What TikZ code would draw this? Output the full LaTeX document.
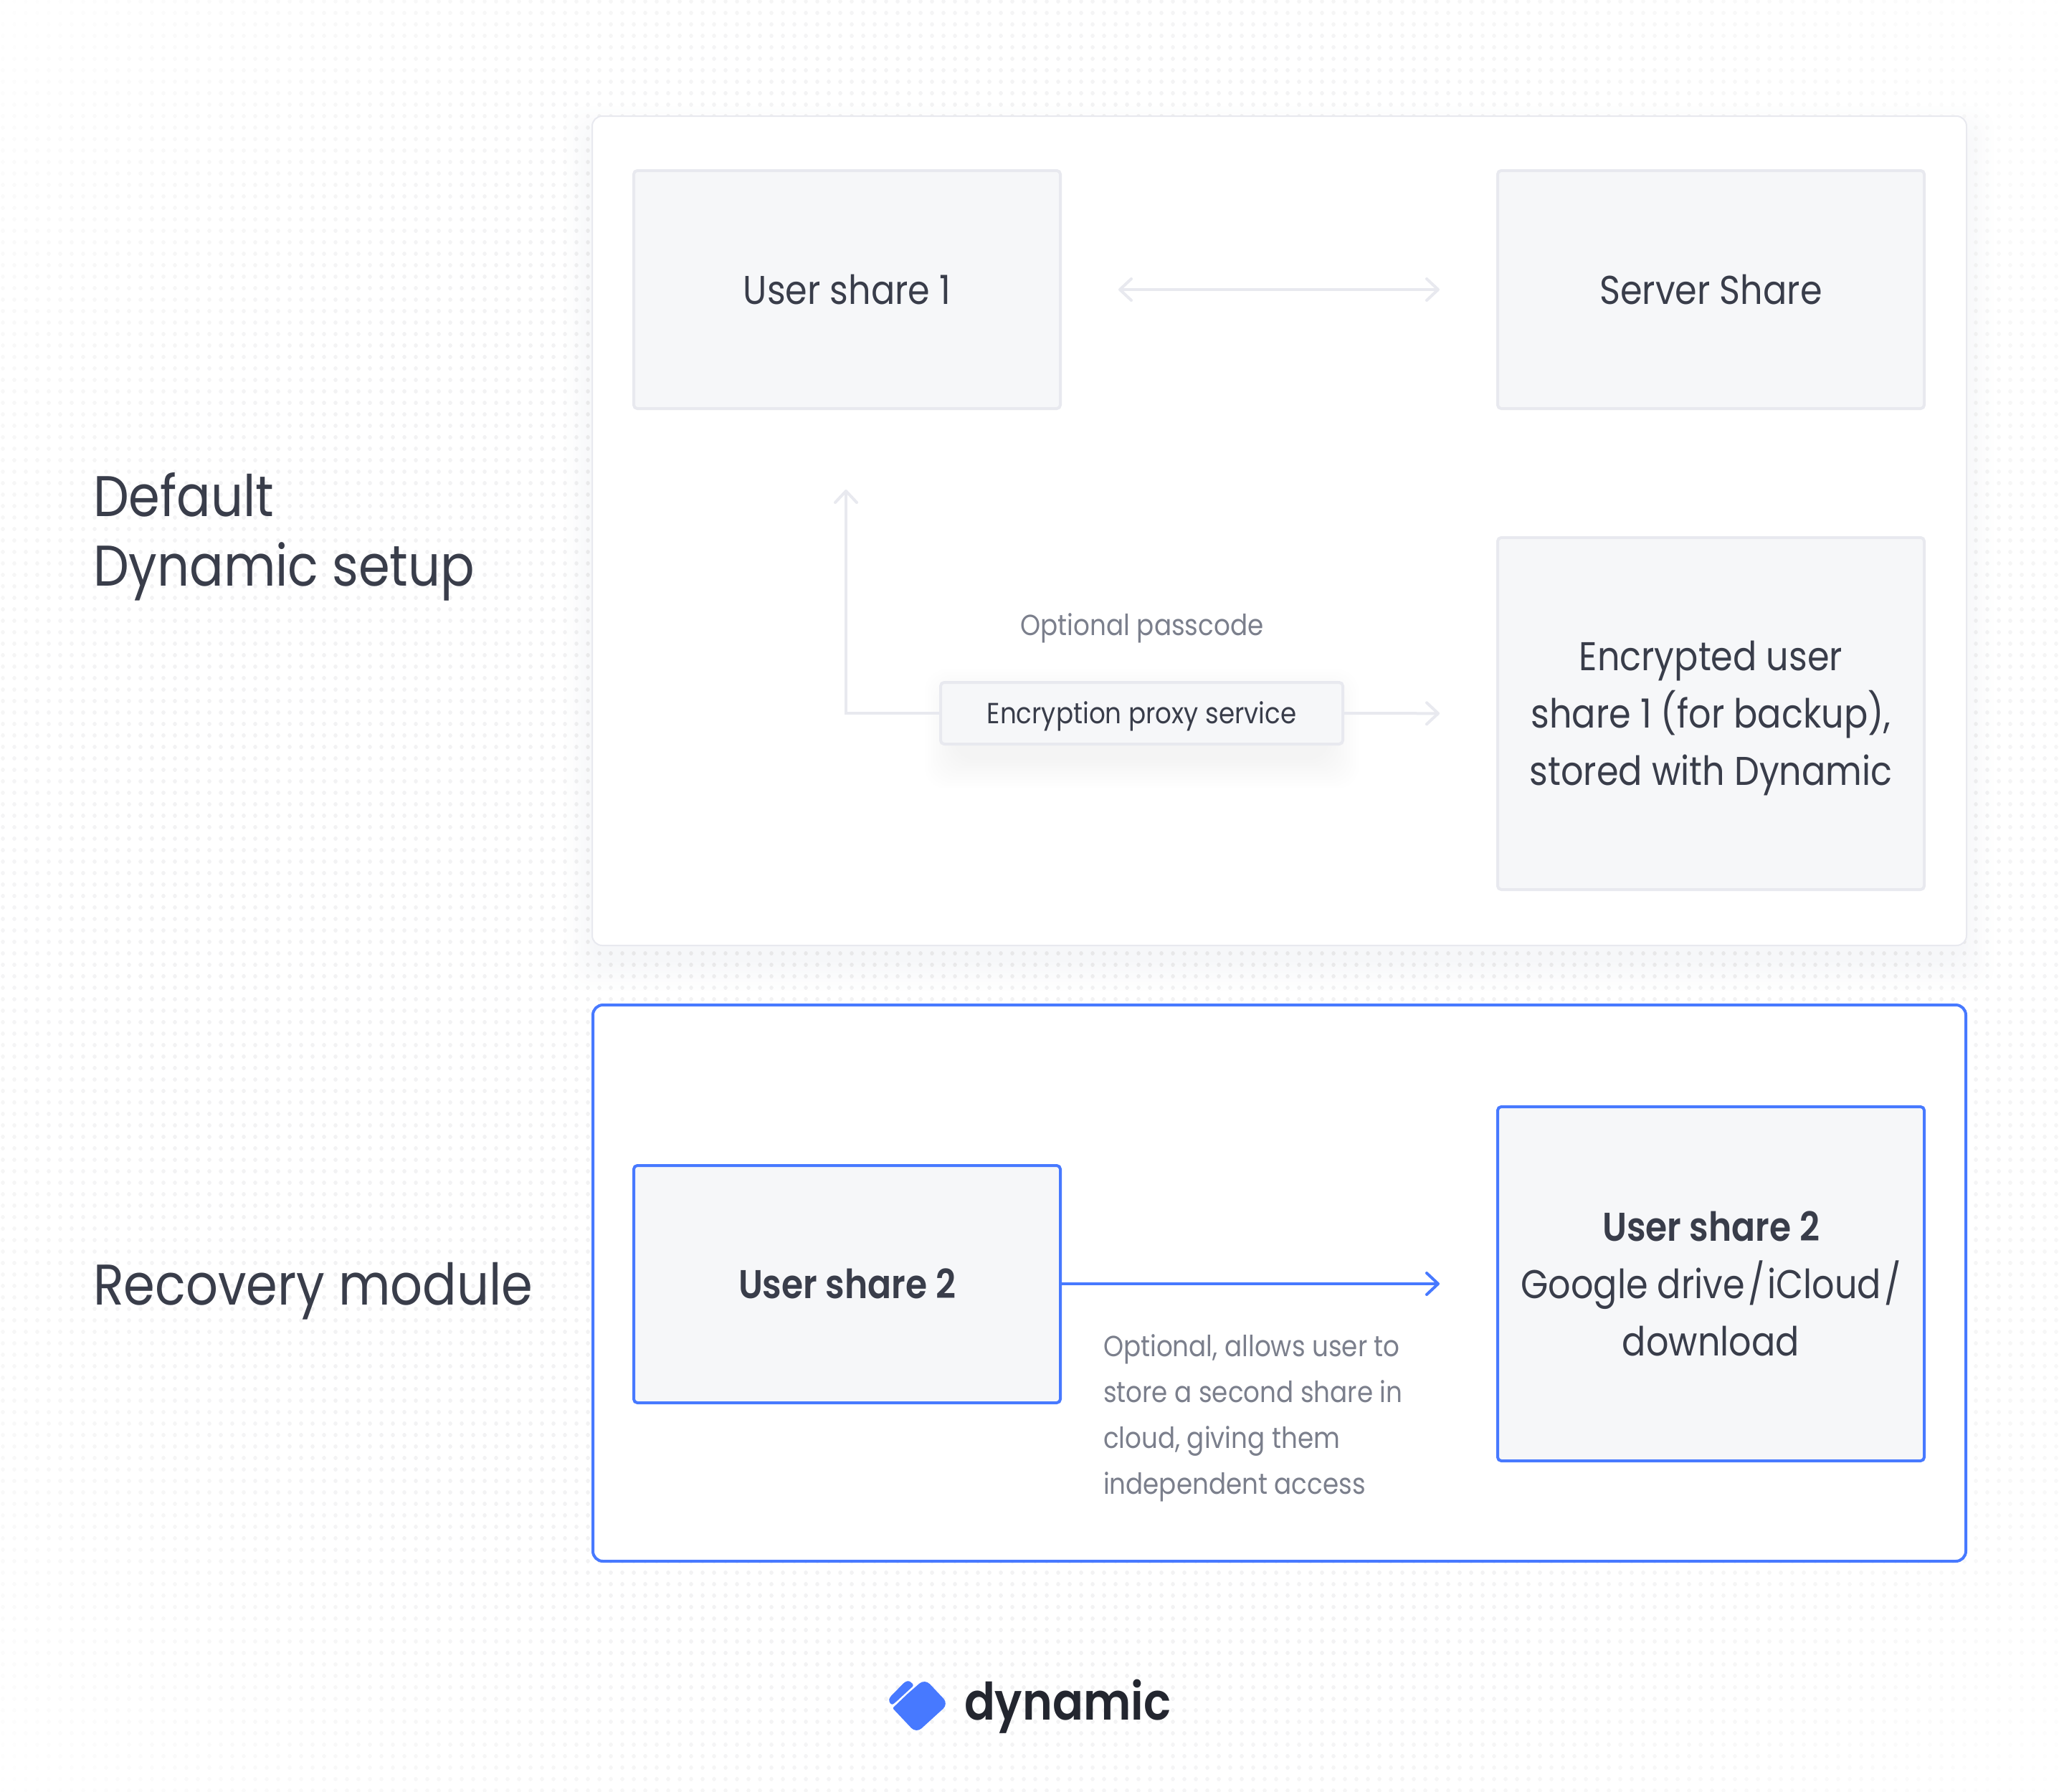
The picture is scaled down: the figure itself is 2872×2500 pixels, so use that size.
\documentclass[tikz,border=0pt]{standalone}
\usepackage{fontspec}
\usetikzlibrary{arrows.meta}
\setmainfont{Poppins}[FakeStretch=0.88]
\newfontfamily\fbold{Poppins SemiBold}[FakeStretch=0.87]
\newfontfamily\flogo{Poppins SemiBold}[FakeStretch=0.88]
\definecolor{ink}{HTML}{393D4A}
\definecolor{muted}{HTML}{7B7F8C}
\definecolor{logoink}{HTML}{23262F}
\definecolor{blue}{HTML}{4779FF}
\definecolor{edge}{HTML}{E8E9EF}
\definecolor{panelfill}{HTML}{F6F7F9}
\definecolor{shadowc}{HTML}{9AA3BD}
\definecolor{dl1}{RGB}{254,254,254}
\definecolor{dl2}{RGB}{253,253,253}
\definecolor{dl3}{RGB}{252,252,252}
\definecolor{dl4}{RGB}{251,251,251}
\definecolor{dl5}{RGB}{250,250,250}
\definecolor{dl6}{RGB}{249,249,249}
\definecolor{dl7}{RGB}{248,248,248}
\definecolor{dl8}{RGB}{247,247,247}
\definecolor{dl9}{RGB}{246,246,246}
\definecolor{dl10}{RGB}{245,245,245}
\definecolor{dl11}{RGB}{244,244,245}
\definecolor{dl12}{RGB}{243,243,244}
\definecolor{dl13}{RGB}{242,242,243}
\newcount\dotX \newcount\dotY \newcount\dotS \newcount\dotL \newcount\dotLast \newcount\dotDx \newcount\dotDy \newcount\rowSkip
\newcommand\paintdot{%
  \dotDx=\numexpr(\dotX-1436)/16\relax
  \dotDy=\numexpr(\dotY-1250)/14\relax
  \dotS=\numexpr\dotDx*\dotDx+\dotDy*\dotDy\relax
  \dotL=\numexpr100-(\dotS-6000)*9/1000\relax
  \ifnum\dotL>100 \dotL=100 \fi
  \dotL=\numexpr13*\dotL/100\relax
  \ifnum\dotL>0
    \ifnum\dotL=\dotLast\else
      \pgfusepath{stroke}%
      \pgfsetstrokecolor{dl\the\dotL}\dotLast=\dotL
    \fi
    \pgfpathmoveto{\pgfqpoint{\dimexpr\dotX pt/2\relax}{\dimexpr-\dotY pt/2\relax}}%
    \pgfpathlineto{\pgfqpoint{\dimexpr\dotX pt/2+0.02pt\relax}{\dimexpr-\dotY pt/2\relax}}%
  \fi}
\newcommand\drawdots{%
  \pgfsetroundcap\pgfsetlinewidth{2.8pt}%
  \foreach \r in {0,...,156}{%
    \dotY=\numexpr2+16*\r\relax
    \dotLast=0
    \rowSkip=0
    \ifnum\dotY>165 \ifnum\dotY<1315 \rowSkip=1 \fi\fi
    \ifnum\dotY>1406 \ifnum\dotY<2174 \rowSkip=1 \fi\fi
    \dotX=4
    \loop
      \ifnum\rowSkip=1
        \ifnum\dotX<829 \paintdot \else\ifnum\dotX>2739 \paintdot \fi\fi
      \else
        \paintdot
      \fi
      \advance\dotX by 16
    \ifnum\dotX<2880 \repeat
    \pgfusepath{stroke}%
  }}
% soft shadow: stacked translucent rounded rectangles
\newcommand\softshadow[5]{%
  \foreach \e in {-2,2,...,38}{%
    \fill[shadowc,fill opacity=#5,rounded corners=15pt] (#1-\e,#2-\e) rectangle (#3+\e,#4+\e);}}
\tikzset{
  x=0.5pt,y=-0.5pt,
  >={Straight Barb[length=8pt,width=15pt,line width=2pt,round]},
  every node/.style={inner sep=0pt,outer sep=0pt,text=ink},
  sharebox/.style={draw=edge,line width=2pt,fill=panelfill,rounded corners=2.5pt,align=center,font=\fontsize{28}{40}\selectfont},
  bluebox/.style={sharebox,draw=blue},
  panel/.style={draw=edge,line width=1pt,fill=white,rounded corners=7pt},
  bluepanel/.style={draw=blue,line width=2pt,fill=white,rounded corners=7pt},
  heading/.style={anchor=north west,align=left,font=\fontsize{40}{48.5}\selectfont},
  note/.style={anchor=north west,align=left,text=muted,font=\fontsize{20.3}{32}\selectfont},
  conn/.style={draw=edge,line width=2pt},
  bluelink/.style={conn,draw=blue}
}
\newcommand\st{\rule[-8pt]{0pt}{36pt}}
\newcommand\hst{\rule[-12pt]{0pt}{42pt}}
\newcommand\nst{\rule[-6pt]{0pt}{23pt}}
\begin{document}
\begin{tikzpicture}
\useasboundingbox (0,0) rectangle (2872,2500);
\begin{scope}\drawdots\end{scope}
% panels
\softshadow{825}{186}{2743}{1344}{0.009}
\node[panel,anchor=north west,minimum width=958.5pt,minimum height=578.5pt] (defpanel) at (826,162) {};
\node[bluepanel,anchor=north west,minimum width=957.5pt,minimum height=388pt] (recpanel) at (827,1402) {};
% default setup
\node[sharebox,anchor=north west,minimum width=297.5pt,minimum height=166pt] (user1) at (884,238) {\st User share 1};
\node[sharebox,anchor=north west,minimum width=297.5pt,minimum height=166pt] (server) at (2089,238) {\st Server Share};
\node[sharebox,anchor=north west,minimum width=297.5pt,minimum height=245.5pt] (enc) at (2089,750) {\st Encrypted user\\\st share 1 (for backup),\\\st stored with Dynamic};
\softshadow{1328}{972}{1857}{1062}{0.006}
\node[sharebox,anchor=north west,minimum width=280.5pt,minimum height=43pt,font=\fontsize{20.3}{26}\selectfont] (proxy) at (1312,952) {\rule[-5pt]{0pt}{25pt}Encryption proxy service};
\node[anchor=base,text=muted,font=\fontsize{20.3}{26}\selectfont] (passcode) at (1593,886) {Optional passcode};
\draw[conn,<->,shorten <=40.5pt,shorten >=40.5pt] (user1.east) -- (server.west);
\draw[conn,->,shorten >=56.5pt] (proxy.west) -| ([xshift=-0.75pt]user1.south);
\draw[conn,->,shorten >=40.5pt] (proxy.east) -- (enc.west);
% recovery
\node[bluebox,anchor=north west,minimum width=297.5pt,minimum height=165.5pt] (user2) at (884,1626) {\st{\fbold User share 2}};
\node[bluebox,anchor=north west,minimum width=297.5pt,minimum height=247pt] (cloud) at (2089,1544) {\st{\fbold User share 2}\\\st Google drive\kern2pt/\kern2pt iCloud\kern2pt/\\\st download};
\draw[bluelink,->,shorten >=40.5pt] (cloud.west -| user2.east) -- (cloud.west);
\node[note] (optnote) at (1539,1858) {\nst Optional, allows user to\\\nst store a second share in\\\nst cloud, giving them\\\nst independent access};
% headings
\node[heading] (hdefault) at (130,659) {\hst Default\\\hst Dynamic setup};
\node[heading] (hrecovery) at (130,1760) {\hst Recovery module};
% logo
\fill[blue,rounded corners=5pt] (1267,2362) -- (1290,2342) -- (1323,2377) -- (1278,2418) [rounded corners=1pt] -- (1245,2383) -- cycle;
\fill[blue,rounded corners=1.5pt] (1275,2351) -- (1250,2374) -- (1244,2379) -- (1239.5,2373) -- (1241,2368) -- (1262,2346.5) -- (1268,2344.5) -- cycle;
\node[anchor=base west,text=logoink,font=\flogo\fontsize{36}{40}\selectfont] (wordmark) at (1345,2399) {dynamic};
\end{tikzpicture}
\end{document}
